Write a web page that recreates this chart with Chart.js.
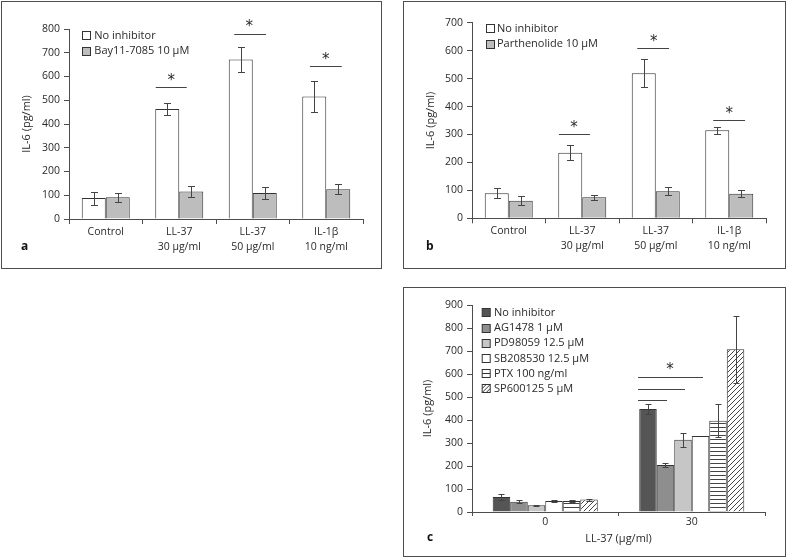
<!DOCTYPE html>
<html><head><meta charset="utf-8">
<script src="https://cdn.jsdelivr.net/npm/chart.js@4/dist/chart.umd.min.js"></script>
<style>
body{margin:0;background:#fff;width:787px;height:557px;position:relative;overflow:hidden;}
canvas{position:absolute;}
.panel{position:absolute;box-sizing:border-box;border:1.5px solid #4d4d4d;pointer-events:none;}
</style></head><body>
<canvas id="ca" width="380" height="267" style="left:1px;top:1px"></canvas>
<canvas id="cb" width="382" height="267" style="left:403px;top:1px"></canvas>
<canvas id="cc" width="382" height="269" style="left:403px;top:287px"></canvas>
<div class="panel" style="left:1px;top:1px;width:381px;height:268px"></div>
<div class="panel" style="left:403px;top:1px;width:383px;height:268px"></div>
<div class="panel" style="left:403px;top:287px;width:383px;height:270px"></div>
<script>
// ---------- data ----------
const catsAB = [['Control'], ['LL-37','30 μg/ml'], ['LL-37','50 μg/ml'], ['IL-1β','10 ng/ml']];

const aLabels = ['No inhibitor', 'Bay11-7085 10 μM'];
const aNone = [88, 463, 672, 516];
const aNoneErr = [27, 26, 54, 66];
const aBay = [92, 116, 110, 125];
const aBayErr = [19, 24, 25, 21];
const aSigCat = [1, 2, 3];
const aSigLine = [555, 779, 644];
const aSigStar = [599, 828, 690];

const bLabels = ['No inhibitor', 'Parthenolide 10 μM'];
const bNone = [90, 235, 519, 315];
const bNoneErr = [18, 27, 50, 12];
const bParth = [63, 75, 97, 88];
const bParthErr = [16, 8, 15, 12];
const bSigCat = [1, 2, 3];
const bSigLine = [300, 608, 352];
const bSigStar = [340, 648, 390];

const cCats = ['0', '30'];
const cLabels = ['No inhibitor', 'AG1478 1 μM', 'PD98059 12.5 μM', 'SB208530 12.5 μM', 'PTX 100 ng/ml', 'SP600125 5 μM'];
const cNone = [65, 448];   const cNoneErr = [13, 20];
const cAG = [45, 204];     const cAGErr = [7, 7];
const cPD = [29, 314];     const cPDErr = [3, 30];
const cSB = [48, 330];     const cSBErr = [3, 0];
const cPTX = [48, 397];    const cPTXErr = [3, 72];
const cSP = [54, 708];     const cSPErr = [4, 146];
const cSigCat = [1, 1, 1];
const cSigLine = [588, 535, 487];
const cSigStar = 636;

// ---------- styles ----------
const FONT = "'Open Sans', 'DejaVu Sans', sans-serif";
const TXT = '#2a2a2a';
const AX = '#4d4d4d';
Chart.defaults.font.family = FONT;
Chart.defaults.color = TXT;

function hatch(type) {
  const s = type === 'h' ? 4 : 5;
  const c = document.createElement('canvas'); c.width = s; c.height = s;
  const g = c.getContext('2d');
  g.fillStyle = '#fff'; g.fillRect(0, 0, s, s);
  g.strokeStyle = '#444'; g.lineWidth = 1;
  g.beginPath();
  if (type === 'h') { g.moveTo(0, 0.5); g.lineTo(s, 0.5); }
  else { g.moveTo(0, s); g.lineTo(s, 0); g.moveTo(-1, 1); g.lineTo(1, -1); g.moveTo(s - 1, s + 1); g.lineTo(s + 1, s - 1); }
  g.stroke();
  return g.createPattern(c, 'repeat');
}

const overlay = {
  id: 'overlay',
  afterDatasetsDraw(chart, args, o) {
    const ctx = chart.ctx, ys = chart.scales.y, xs = chart.scales.x;
    ctx.save();
    ctx.strokeStyle = '#444'; ctx.lineWidth = 1;
    // error bars
    chart.data.datasets.forEach((ds, di) => {
      const meta = chart.getDatasetMeta(di);
      meta.data.forEach((bar, i) => {
        const e = ds.errors[i]; if (!e) return;
        const v = ds.data[i];
        const yt = Math.round(ys.getPixelForValue(v + e)) + 0.5;
        const yb = Math.round(ys.getPixelForValue(v - e)) + 0.5;
        const cx = Math.round(bar.x) + 0.5;
        ctx.beginPath();
        ctx.moveTo(cx, yt); ctx.lineTo(cx, yb);
        ctx.moveTo(cx - o.cap, yt); ctx.lineTo(cx + o.cap, yt);
        ctx.moveTo(cx - o.cap, yb); ctx.lineTo(cx + o.cap, yb);
        ctx.stroke();
      });
    });
    // significance lines
    o.sig.forEach(s => {
      const c = xs.getPixelForValue(s.cat);
      const y = Math.round(ys.getPixelForValue(s.line)) + 0.5;
      ctx.beginPath(); ctx.moveTo(c + s.x0, y); ctx.lineTo(c + s.x1, y); ctx.stroke();
      if (s.star != null) {
        ctx.fillStyle = TXT;
        ctx.font = "15px 'DejaVu Sans'";
        ctx.textAlign = 'center'; ctx.textBaseline = 'alphabetic';
        ctx.fillText('*', c + s.sx, ys.getPixelForValue(s.star) + 8.5);
      }
    });
    // legend
    const L = o.legend;
    ctx.font = L.size + 'px ' + FONT;
    ctx.textAlign = 'left'; ctx.textBaseline = 'middle';
    chart.data.datasets.forEach((ds, i) => {
      const cy = L.y + i * L.step;
      const bx = L.x + 0.5, by = Math.round(cy - L.box / 2) + 0.5;
      ctx.fillStyle = ds.hatchType ? '#fff' : ds.backgroundColor;
      ctx.fillRect(bx, by, L.box, L.box);
      ctx.strokeStyle = '#333';
      ctx.strokeRect(bx, by, L.box, L.box);
      if (ds.hatchType === 'h') {
        ctx.beginPath(); ctx.moveTo(bx, by + L.box / 2); ctx.lineTo(bx + L.box, by + L.box / 2); ctx.stroke();
      } else if (ds.hatchType === 'd') {
        ctx.beginPath(); ctx.moveTo(bx, by + L.box); ctx.lineTo(bx + L.box, by);
        ctx.moveTo(bx, by + L.box / 2); ctx.lineTo(bx + L.box / 2, by);
        ctx.moveTo(bx + L.box / 2, by + L.box); ctx.lineTo(bx + L.box, by + L.box / 2);
        ctx.stroke();
      }
      ctx.fillStyle = TXT;
      ctx.fillText(ds.label, L.tx, cy + 0.5);
    });
    // panel letter
    ctx.font = "bold 12px " + FONT;
    ctx.fillStyle = '#111';
    ctx.fillText(o.letter.t, o.letter.x, o.letter.y);
    ctx.restore();
  }
};

function ds(label, data, errors, color, hatchType) {
  return { label, data, errors, hatchType,
    backgroundColor: hatchType ? hatch(hatchType) : color,
    borderColor: '#333', borderWidth: 1, barPercentage: 1 };
}

function makeChart(id, cfg) {
  return new Chart(document.getElementById(id), {
    type: 'bar',
    data: { labels: cfg.labels, datasets: cfg.datasets.map(d => Object.assign(d, { categoryPercentage: cfg.catPct })) },
    plugins: [overlay],
    options: {
      responsive: false, animation: false, devicePixelRatio: 1,
      layout: { padding: { left: 0, top: cfg.top, right: cfg.right, bottom: 0 } },
      plugins: { legend: { display: false }, tooltip: { enabled: false }, overlay: cfg.overlay },
      scales: {
        x: {
          ticks: { font: { size: 10.5, lineHeight: cfg.xLH }, color: TXT, padding: 0, maxRotation: 0, autoSkip: false },
          grid: { drawOnChartArea: false, tickLength: cfg.xTick, color: AX, offset: true },
          border: { display: true, color: AX, width: 1 },
          title: cfg.xTitle ? { display: true, text: cfg.xTitle, font: { size: 11 }, color: TXT, padding: { top: 0, bottom: cfg.xTitlePad } } : { display: false },
          afterFit(s) { s.height = cfg.xH; }
        },
        y: {
          min: 0, max: cfg.max,
          ticks: { stepSize: 100, font: { size: 10.5 }, color: TXT, padding: 4 },
          grid: { drawOnChartArea: false, tickLength: 5, color: AX },
          border: { display: true, color: AX, width: 1 },
          title: { display: true, text: 'IL-6 (pg/ml)', font: { size: 11 }, color: TXT, padding: { top: cfg.yTitlePad, bottom: 0 } },
          afterFit(s) { s.width = cfg.yW; }
        }
      }
    }
  });
}

function sigList(cats, lines, stars, offs) {
  return cats.map((c, i) => Object.assign({ cat: c, line: lines[i], star: Array.isArray(stars) ? stars[i] : (i === 0 ? stars : null) }, offs[i]));
}

// Panel a
makeChart('ca', {
  labels: catsAB, catPct: 0.653, max: 800, top: 28, right: 18, xH: 49, yW: 68, xLH: 1.46, xTick: 5, yTitlePad: 19.5,
  datasets: [ds(aLabels[0], aNone, aNoneErr, '#ffffff'), ds(aLabels[1], aBay, aBayErr, '#bdbdbd')],
  overlay: {
    cap: 3.5,
    sig: sigList(aSigCat, aSigLine, aSigStar, [{x0:-23.5,x1:7.5,sx:-8},{x0:-18.5,x1:13.3,sx:-3.5},{x0:-16.3,x1:15.5,sx:-0.5}]),
    legend: { x: 81, y: 34, step: 15.5, box: 8, tx: 93.3, size: 11 },
    letter: { t: 'a', x: 20, y: 246 }
  }
});

// Panel b
makeChart('cb', {
  labels: catsAB, catPct: 0.653, max: 700, top: 21.7, right: 19, xH: 49.7, yW: 69, xLH: 1.46, xTick: 5, yTitlePad: 21,
  datasets: [ds(bLabels[0], bNone, bNoneErr, '#ffffff'), ds(bLabels[1], bParth, bParthErr, '#bdbdbd')],
  overlay: {
    cap: 3.5,
    sig: sigList(bSigCat, bSigLine, bSigStar, [{x0:-23.3,x1:7.7,sx:-8.3},{x0:-18.5,x1:13.3,sx:-2},{x0:-16,x1:15.8,sx:0}]),
    legend: { x: 83, y: 27.2, step: 15.6, box: 8, tx: 94, size: 11 },
    letter: { t: 'b', x: 23, y: 246 }
  }
});

// Panel c
makeChart('cc', {
  labels: cCats, catPct: 0.717, max: 900, top: 18, right: 20, xH: 44, yW: 69, xLH: 1.2, xTick: 4, yTitlePad: 18.5,
  xTitle: 'LL-37 (μg/ml)', xTitlePad: 11,
  datasets: [
    ds(cLabels[0], cNone, cNoneErr, '#555555'),
    ds(cLabels[1], cAG, cAGErr, '#8e8e8e'),
    ds(cLabels[2], cPD, cPDErr, '#c6c6c6'),
    ds(cLabels[3], cSB, cSBErr, '#ffffff'),
    ds(cLabels[4], cPTX, cPTXErr, null, 'h'),
    ds(cLabels[5], cSP, cSPErr, null, 'd')
  ],
  overlay: {
    cap: 3,
    sig: sigList(cSigCat, cSigLine, cSigStar, [{x0:-53.75,x1:11.25,sx:-21.75},{x0:-53.75,x1:-6.75},{x0:-53.75,x1:-24.75}]),
    legend: { x: 78.7, y: 25.3, step: 15.2, box: 8, tx: 91, size: 11 },
    letter: { t: 'c', x: 24, y: 251 }
  }
});
</script>
</body></html>
